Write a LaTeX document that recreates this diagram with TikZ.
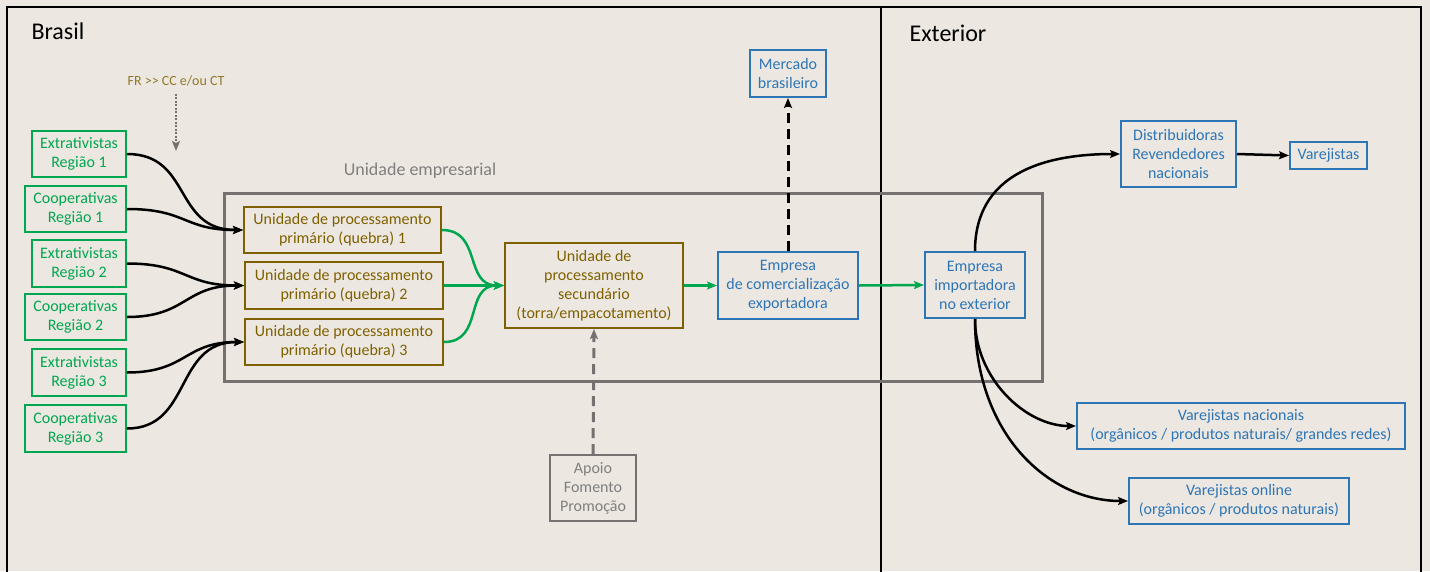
\documentclass[tikz,border=0pt]{standalone}
\usepackage{fontspec}
\setmainfont{Carlito}
\usetikzlibrary{arrows.meta}
\definecolor{paper}{HTML}{ECE8E1}
\definecolor{cgreen}{HTML}{00A650}
\definecolor{cbrown}{HTML}{7F6000}
\definecolor{cblue}{HTML}{2E75B6}
\definecolor{cgray}{HTML}{767171}
\definecolor{cgraytext}{HTML}{7F7F7F}
\tikzset{
  box/.style={draw, line width=2pt, align=center, inner sep=0pt,
    font=\fontsize{16}{19}\selectfont},
  greenbox/.style={box, draw=cgreen, text=cgreen},
  brownbox/.style={box, draw=cbrown, text=cbrown},
  bluebox/.style={box, draw=cblue, text=cblue},
  graybox/.style={box, draw=cgray, text=cgraytext},
  tip/.style={-{Stealth[length=10pt,width=8pt,inset=2pt]}},
  feed/.style={tip, line width=2.5pt, black},
  flow/.style={tip, line width=2.5pt, cgreen},
}
\begin{document}
\begin{tikzpicture}[x=1pt,y=-1pt]
  % page and paper
  \fill[paper] (0,0) rectangle (1430,571);
  \useasboundingbox (0,0) rectangle (1430,571);
  \clip (0,0) rectangle (1430,571);

  % country frames
  \draw[line width=2pt] (7,580) -- (7,7) -- (1421,7) -- (1421,580);
  \draw[line width=2pt] (881,7) -- (881,580);
  \node[font=\fontsize{24}{28}\selectfont, anchor=west] (brasil) at (28,31) {Brasil};
  \node[font=\fontsize{24}{28}\selectfont, anchor=west] (exterior) at (906,33) {Exterior};

  % company unit
  \draw[cgray, line width=3pt] (224,193) rectangle (1042,381);
  \node[text=cgraytext, font=\fontsize{18}{21}\selectfont] (ue) at (420,171) {Unidade empresarial};

  % financing note
  \node[text=cbrown!85!white, font=\fontsize{14}{16}\selectfont] (fr) at (176,81) {FR >{}> CC e/ou CT};
  \coordinate (frend) at (176,151);
  \draw[tip, cgray, line width=2.5pt, dash pattern=on 2pt off 1.5pt] (fr.south) ++(0,4) -- (frend);

  % producers
  \node[greenbox, minimum width=94pt, minimum height=46pt] (e1) at (79,154) {Extrativistas\\Região 1};
  \node[greenbox, minimum width=101pt, minimum height=46pt] (c1) at (75.5,209) {Cooperativas\\Região 1};
  \node[greenbox, minimum width=94pt, minimum height=47pt] (e2) at (79,263.5) {Extrativistas\\Região 2};
  \node[greenbox, minimum width=101pt, minimum height=46pt] (c2) at (75.5,317) {Cooperativas\\Região 2};
  \node[greenbox, minimum width=94pt, minimum height=47pt] (e3) at (79,372.5) {Extrativistas\\Região 3};
  \node[greenbox, minimum width=101pt, minimum height=47pt] (c3) at (75.5,428.5) {Cooperativas\\Região 3};

  % processing units
  \node[brownbox, minimum width=197pt, minimum height=46pt] (p1) at (342.5,230) {Unidade de processamento\\primário (quebra) 1};
  \node[brownbox, minimum width=198pt, minimum height=47pt] (p2) at (344,285.5) {Unidade de processamento\\primário (quebra) 2};
  \node[brownbox, minimum width=198pt, minimum height=46pt] (p3) at (344,342) {Unidade de processamento\\primário (quebra) 3};
  \node[brownbox, minimum width=178pt, minimum height=85pt] (sec) at (594,285.5) {Unidade de\\processamento\\secundário\\(torra/empacotamento)};

  % trade
  \node[bluebox, minimum width=140pt, minimum height=67pt] (exp) at (788,285.5) {Empresa\\de comercialização\\exportadora};
  \node[bluebox, minimum width=76pt, minimum height=47pt] (mb) at (788,73.5) {Mercado\\brasileiro};
  \node[graybox, minimum width=86pt, minimum height=66pt] (apoio) at (593,488) {Apoio\\Fomento\\Promoção};
  \node[bluebox, minimum width=100pt, minimum height=66pt] (imp) at (975,285) {Empresa\\importadora\\no exterior};
  \node[bluebox, minimum width=115pt, minimum height=66pt] (dist) at (1178.5,154) {Distribuidoras\\Revendedores\\nacionais};
  \node[bluebox, minimum width=77pt, minimum height=27pt] (var) at (1328.5,155.5) {Varejistas};
  \node[bluebox, minimum width=328pt, minimum height=46pt] (vn) at (1241,426) {Varejistas nacionais\\(orgânicos / produtos naturais/ grandes redes)};
  \node[bluebox, minimum width=220pt, minimum height=46pt] (vo) at (1239,501) {Varejistas online\\(orgânicos / produtos naturais)};

  % producers to primary processing
  \draw[feed] (e1.east) .. controls +(65,0) and +(-70,0) .. (p1.west);
  \draw[feed] (c1.east) .. controls +(60,0) and +(-60,0) .. (p1.west);
  \draw[feed] (e2.east) .. controls +(60,0) and +(-60,0) .. (p2.west);
  \draw[feed] (c2.east) .. controls +(60,0) and +(-60,0) .. (p2.west);
  \draw[feed] (e3.east) .. controls +(60,0) and +(-60,0) .. (p3.west);
  \draw[feed] (c3.east) .. controls +(65,0) and +(-70,0) .. (p3.west);

  % product flow
  \draw[flow] (p1.east) .. controls +(40,0) and +(-40,0) .. (sec.west);
  \draw[flow] (p2.east) -- (sec.west);
  \draw[flow] (p3.east) .. controls +(40,0) and +(-40,0) .. (sec.west);
  \draw[flow] (sec.east) -- (exp.west);
  \draw[flow] (exp.east) -- (imp.west);

  % side flows
  \draw[tip, line width=3pt, dash pattern=on 10pt off 6pt] (exp.north) -- (mb.south);
  \draw[tip, cgray, line width=3pt, dash pattern=on 10pt off 6pt] (apoio.north) -- (sec.south);

  % distribution abroad
  \draw[feed] (imp.north) .. controls +(0,-75) and +(-80,0) .. (dist.west);
  \draw[feed] (dist.east) -- (var.west);
  \draw[feed] (imp.south) .. controls +(0,60) and +(-50,0) .. (vn.west);
  \draw[feed] (imp.south) .. controls +(0,115) and +(-80,0) .. (vo.west);
\end{tikzpicture}
\end{document}
